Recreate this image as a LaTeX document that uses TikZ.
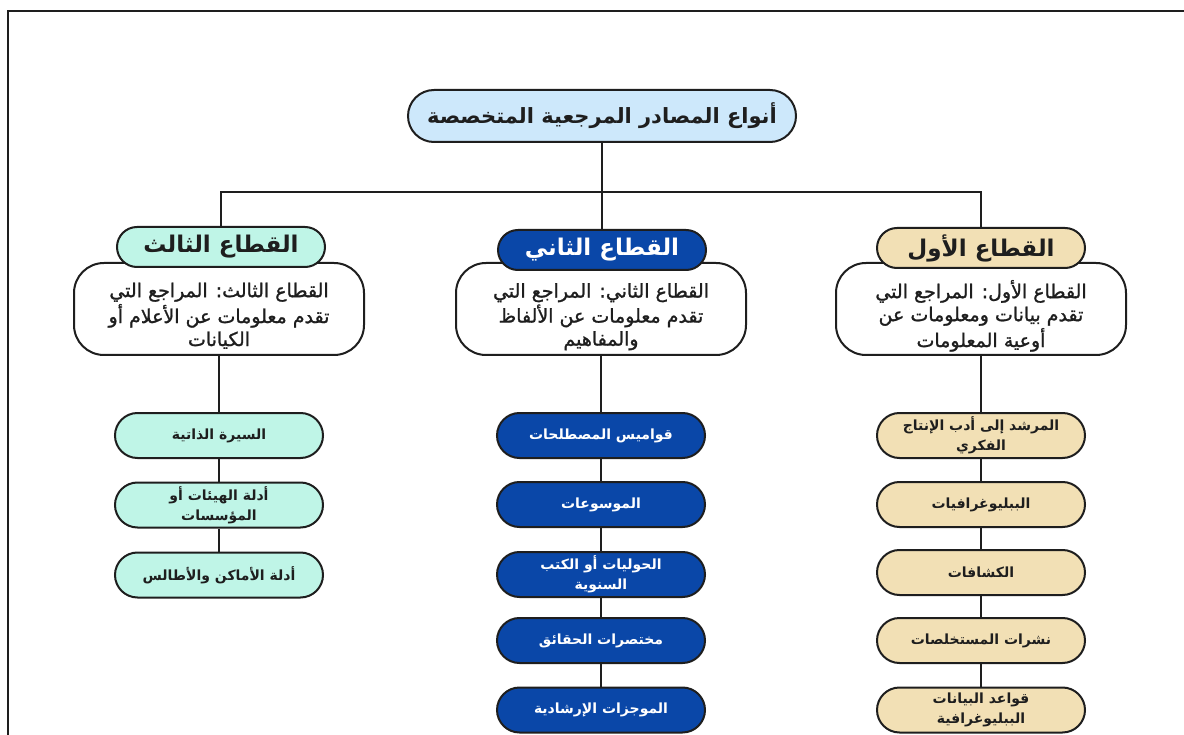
\documentclass[tikz,border=0pt]{standalone}
\usepackage{fontspec}
\TeXXeTstate=1
\newfontfamily\arabicfont[Script=Arabic]{DejaVu Sans}
\newfontfamily\arabicmed[Script=Arabic,FakeBold=1.2]{DejaVu Sans}
\definecolor{rootfill}{HTML}{CDE8FB}
\definecolor{mint}{HTML}{BFF5E7}
\definecolor{navy}{HTML}{0A47A8}
\definecolor{tan}{HTML}{F2E0B5}
\definecolor{ink}{HTML}{1E1E1E}
\tikzset{
  box/.style={draw=ink, line width=2pt, align=center, inner sep=0pt, text=ink},
  rootbox/.style={box, fill=rootfill, minimum width=388pt, minimum height=52pt, rounded corners=26pt, font=\arabicfont\bfseries\fontsize{21}{26}\selectfont},
  titlebox/.style={box, minimum width=208pt, minimum height=40pt, rounded corners=20pt, font=\arabicfont\bfseries\fontsize{23}{27}\selectfont},
  descbox/.style={box, fill=white, minimum width=290pt, minimum height=92pt, rounded corners=30pt, font=\arabicmed\fontsize{19}{23}\selectfont},
  childbox/.style={box, minimum width=208pt, minimum height=45pt, rounded corners=22.5pt, font=\arabicfont\bfseries\fontsize{14}{20}\selectfont},
  link/.style={draw=ink, line width=2pt},
  frameline/.style={draw=ink, line width=2pt}
}
\newcommand{\ar}[1]{\beginR #1\endR}
\newcommand{\desctext}[1]{\raisebox{-8pt}[\height][\depth]{\begin{tabular}{@{}c@{}}#1\end{tabular}}}
\begin{document}
\begin{tikzpicture}[x=1pt,y=-1pt]
\useasboundingbox (0,0) rectangle (1184,735);
\fill[white] (0,0) rectangle (1184,735);
\draw[frameline] (8,735) -- (8,11) -- (1184,11);

% root
\node[rootbox] (root) at (602,116) {\ar{أنواع المصادر المرجعية المتخصصة}};
\coordinate (bus) at (602,192);

% description boxes
\node[descbox] (d3) at (219,309) {\desctext{\beginR القطاع الثالث: المراجع التي\endR\\ \beginR تقدم معلومات عن الأعلام أو\endR\\ \beginR الكيانات\endR}};
\node[descbox] (d2) at (601,309) {\desctext{\beginR القطاع الثاني: المراجع التي\endR\\ \beginR تقدم معلومات عن الألفاظ\endR\\ \beginR والمفاهيم\endR}};
\node[descbox] (d1) at (981,309) {\desctext{\beginR القطاع الأول: المراجع التي\endR\\ \beginR تقدم بيانات ومعلومات عن\endR\\ \beginR أوعية المعلومات\endR}};

% titles
\node[titlebox, fill=mint] (t3) at (221,247) {\ar{القطاع الثالث}};
\node[titlebox, fill=navy, text=white] (t2) at (602,250) {\ar{القطاع الثاني}};
\node[titlebox, fill=tan] (t1) at (981,248) {\ar{القطاع الأول}};

% third column children
\node[childbox, fill=mint] (c31) at (219,435.5) {\ar{السيرة الذاتية}};
\node[childbox, fill=mint] (c32) at (219,505) {\ar{أدلة الهيئات أو}\\ \ar{المؤسسات}};
\node[childbox, fill=mint] (c33) at (219,575) {\ar{أدلة الأماكن والأطالس}};

% second column children
\node[childbox, fill=navy, text=white] (c21) at (601,435.5) {\ar{قواميس المصطلحات}};
\node[childbox, fill=navy, text=white] (c22) at (601,504.5) {\ar{الموسوعات}};
\node[childbox, fill=navy, text=white] (c23) at (601,574.5) {\ar{الحوليات أو الكتب}\\ \ar{السنوية}};
\node[childbox, fill=navy, text=white] (c24) at (601,640.5) {\ar{مختصرات الحقائق}};
\node[childbox, fill=navy, text=white] (c25) at (601,710) {\ar{الموجزات الإرشادية}};

% first column children
\node[childbox, fill=tan] (c11) at (981,435.5) {\ar{المرشد إلى أدب الإنتاج}\\ \ar{الفكري}};
\node[childbox, fill=tan] (c12) at (981,504.5) {\ar{الببليوغرافيات}};
\node[childbox, fill=tan] (c13) at (981,572.5) {\ar{الكشافات}};
\node[childbox, fill=tan] (c14) at (981,640.5) {\ar{نشرات المستخلصات}};
\node[childbox, fill=tan] (c15) at (981,710) {\ar{قواعد البيانات}\\ \ar{الببليوغرافية}};

% connectors
\draw[link] (root.south) -- (bus);
\draw[link] (bus) -| (t3.north);
\draw[link] (bus) -| (t1.north);
\draw[link] (bus) -- (t2.north);

\draw[link] (d3.south) -- (c31.north);
\draw[link] (c31.south) -- (c32.north);
\draw[link] (c32.south) -- (c33.north);

\draw[link] (d2.south) -- (c21.north);
\draw[link] (c21.south) -- (c22.north);
\draw[link] (c22.south) -- (c23.north);
\draw[link] (c23.south) -- (c24.north);
\draw[link] (c24.south) -- (c25.north);

\draw[link] (d1.south) -- (c11.north);
\draw[link] (c11.south) -- (c12.north);
\draw[link] (c12.south) -- (c13.north);
\draw[link] (c13.south) -- (c14.north);
\draw[link] (c14.south) -- (c15.north);
\end{tikzpicture}
\end{document}
